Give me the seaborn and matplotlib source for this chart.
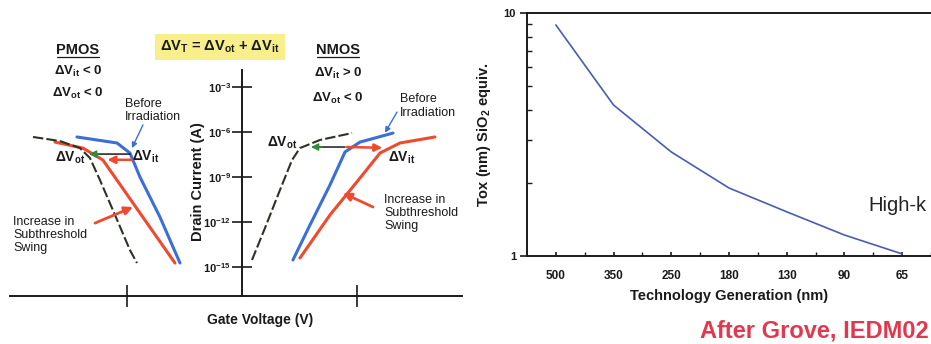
import matplotlib
matplotlib.use("Agg")
import matplotlib.pyplot as plt
import seaborn as sns
import pandas as pd
import numpy as np

# ---------------- data ----------------
# Left panel: schematic Id-Vg curves (x: gate voltage, arbitrary units; y: log10 drain current)
pmos_ot_v = [-1.817, -1.583, -1.409, -1.322, -1.235, -1.104, -0.974, -0.913]
pmos_ot_logi = [-6.33, -6.60, -7.07, -7.73, -9.20, -11.53, -13.87, -14.73]
pmos_before_v = [-1.435, -1.087, -0.974, -0.887, -0.713, -0.539]
pmos_before_logi = [-6.33, -6.73, -7.40, -9.00, -11.67, -14.73]
pmos_irr_v = [-1.626, -1.383, -1.209, -0.948, -0.583]
pmos_irr_logi = [-6.67, -7.07, -7.87, -10.73, -14.73]

nmos_ot_v = [0.087, 0.200, 0.330, 0.435, 0.504, 0.678, 0.957]
nmos_ot_logi = [-14.53, -12.40, -9.87, -7.87, -7.07, -6.53, -6.07]
nmos_before_v = [0.443, 0.591, 0.765, 0.896, 1.026, 1.313]
nmos_before_logi = [-14.53, -12.20, -9.53, -7.33, -6.67, -6.07]
nmos_irr_v = [0.504, 0.765, 1.026, 1.200, 1.374, 1.678]
nmos_irr_logi = [-14.40, -11.53, -9.07, -7.40, -6.73, -6.33]

current_ticks = [-3, -6, -9, -12, -15]
current_tick_labels = [r"$10^{-3}$", r"$10^{-6}$", r"$10^{-9}$", r"$10^{-12}$", r"$10^{-15}$"]

# Right panel: Tox vs technology generation
tech_gen = ["500", "350", "250", "180", "130", "90", "65"]
tox_nm = [8.93, 4.18, 2.68, 1.905, 1.52, 1.22, 1.02]

# ---------------- style ----------------
sns.set_style("ticks")
plt.rcParams["font.family"] = ["Liberation Sans", "DejaVu Sans"]
plt.rcParams["mathtext.fontset"] = "custom"
plt.rcParams["mathtext.rm"] = "Liberation Sans:bold"
plt.rcParams["mathtext.it"] = "Liberation Sans:bold"
plt.rcParams["mathtext.bf"] = "Liberation Sans:bold"
plt.rcParams["mathtext.sf"] = "Liberation Sans:bold"

BLUE = "#3a6fd6"
RED = "#ef4a2e"
GREEN = "#2e8b3a"
DARK = "#2b3326"
INK = "#1a1a1a"

W, H = 931, 344
fig = plt.figure(figsize=(W / 100, H / 100), dpi=100)

# ---------------- left panel ----------------
ax = fig.add_axes([10 / W, (H - 296) / H, (462 - 10) / W, 296 / H])
ybot, ytop = -16.93, 2.8
ax.set_xlim(-2.017, 1.913)
ax.set_ylim(ybot, ytop)
for s in ["top", "right"]:
    ax.spines[s].set_visible(False)
ax.spines["left"].set_position(("data", 0))
ax.spines["left"].set_bounds(ybot, -1.87)
ax.spines["left"].set_linewidth(1.4)
ax.spines["bottom"].set_linewidth(1.4)
ax.spines["left"].set_color(INK)
ax.spines["bottom"].set_color(INK)
ax.set_yticks(current_ticks)
ax.set_yticklabels(current_tick_labels)
ax.tick_params(axis="y", direction="inout", length=14, width=1.2, pad=1, labelsize=8, colors=INK)
ax.set_xticks([-1, 1])
ax.set_xticklabels([])
ax.tick_params(axis="x", direction="inout", length=16, width=1.2, colors=INK)

def curve(v, li, color, lw, ls="-"):
    df = pd.DataFrame({"v": v, "logI": li})
    sns.lineplot(data=df, x="v", y="logI", ax=ax, color=color, lw=lw, ls=ls,
                 sort=False, estimator=None, legend=False)

curve(pmos_irr_v, pmos_irr_logi, RED, 2.2)
curve(pmos_before_v, pmos_before_logi, BLUE, 2.2)
curve(pmos_ot_v, pmos_ot_logi, DARK, 1.5, (0, (5, 1.5)))
curve(nmos_irr_v, nmos_irr_logi, RED, 2.2)
curve(nmos_before_v, nmos_before_logi, BLUE, 2.2)
curve(nmos_ot_v, nmos_ot_logi, DARK, 1.5, (0, (5, 1.5)))
ax.set_xlabel("")
ax.set_ylabel("")

def arrow(x0, y0, x1, y1, color, lw=1.6, ms=12, style="-|>"):
    ax.annotate("", xy=(x1, y1), xytext=(x0, y0),
                arrowprops=dict(arrowstyle=style, color=color, lw=lw, mutation_scale=ms,
                                shrinkA=0, shrinkB=0))

# PMOS shift arrows
arrow(-0.974, -7.47, -1.30, -7.47, INK, lw=1.1, style="-")
arrow(-1.24, -7.47, -1.33, -7.47, GREEN, lw=1.0, ms=11)
arrow(-0.957, -7.85, -1.17, -7.85, RED, lw=1.8, ms=11)
# NMOS shift arrows
arrow(0.896, -7.0, 0.64, -7.0, INK, lw=1.1, style="-")
arrow(0.70, -7.0, 0.60, -7.0, GREEN, lw=1.0, ms=11)
arrow(0.913, -7.0, 1.22, -7.05, RED, lw=1.8, ms=11)
# leaders
arrow(-0.861, -5.53, -0.957, -7.07, BLUE, lw=1.0, ms=8)
arrow(1.348, -4.67, 1.243, -6.05, BLUE, lw=1.0, ms=8)
arrow(-1.278, -12.07, -0.948, -11.0, RED, lw=2.0, ms=12)
arrow(1.139, -11.0, 0.878, -10.07, RED, lw=2.0, ms=12)

tb = dict(color=INK, fontweight="bold")
ax.text(-1.426, -0.53, "PMOS", fontsize=10.5, ha="center", va="center", **tb)
ax.plot([-1.61, -1.24], [-1.0, -1.0], color=INK, lw=0.9)
ax.text(-1.426, -1.93, r"ΔV$_{it}$ < 0", fontsize=9.5, ha="center", va="center", **tb)
ax.text(-1.426, -3.40, r"ΔV$_{ot}$ < 0", fontsize=9.5, ha="center", va="center", **tb)
ax.text(0.835, -0.53, "NMOS", fontsize=10.5, ha="center", va="center", **tb)
ax.plot([0.65, 1.02], [-1.0, -1.0], color=INK, lw=0.9)
ax.text(0.835, -2.07, r"ΔV$_{it}$ > 0", fontsize=9.5, ha="center", va="center", **tb)
ax.text(0.835, -3.73, r"ΔV$_{ot}$ < 0", fontsize=9.5, ha="center", va="center", **tb)
ax.text(-0.191, -0.33, r"ΔV$_T$ = ΔV$_{ot}$ + ΔV$_{it}$", fontsize=10.5, ha="center", va="center",
        bbox=dict(boxstyle="square,pad=0.35", facecolor="#f8ee8c", edgecolor="none"), **tb)

ax.text(-1.496, -7.75, r"ΔV$_{ot}$", fontsize=10, ha="center", va="center", **tb)
ax.text(-0.835, -7.67, r"ΔV$_{it}$", fontsize=10, ha="center", va="center", **tb)
ax.text(0.348, -6.73, r"ΔV$_{ot}$", fontsize=10, ha="center", va="center", **tb)
ax.text(1.391, -7.73, r"ΔV$_{it}$", fontsize=10, ha="center", va="center", **tb)

tn = dict(color=INK, fontsize=9, linespacing=1.15)
ax.text(-1.017, -4.57, "Before\nIrradiation", ha="left", va="center", **tn)
ax.text(1.374, -4.27, "Before\nIrradiation", ha="left", va="center", **tn)
ax.text(-1.991, -12.87, "Increase in\nSubthreshold\nSwing", ha="left", va="center", **tn)
ax.text(1.235, -11.4, "Increase in\nSubthreshold\nSwing", ha="left", va="center", **tn)

ax.text(-0.383, -9.3, "Drain Current (A)", rotation=90, fontsize=10.5, ha="center", va="center", **tb)
ax.text(0.157, -18.55, "Gate Voltage (V)", fontsize=10, ha="center", va="center", clip_on=False, **tb)

# ---------------- right panel ----------------
ax2 = fig.add_axes([527 / W, (H - 256) / H, (W - 527) / W, (256 - 13) / H])
df2 = pd.DataFrame({"gen": np.arange(len(tech_gen)), "tox": tox_nm})
sns.lineplot(data=df2, x="gen", y="tox", ax=ax2, color="#4a5cb0", lw=1.2,
             sort=False, estimator=None, legend=False)
ax2.set_yscale("log")
ax2.set_ylim(1, 10)
ax2.set_xlim(-0.5, 6.42)
ax2.spines["right"].set_visible(False)
for s in ["top", "left", "bottom"]:
    ax2.spines[s].set_linewidth(1.4)
    ax2.spines[s].set_color(INK)
ax2.set_yticks([1, 10])
ax2.set_yticklabels(["1", "10"], fontweight="bold")
ax2.yaxis.set_minor_locator(matplotlib.ticker.LogLocator(base=10, subs=np.arange(2, 10)))
ax2.yaxis.set_minor_formatter(matplotlib.ticker.NullFormatter())
ax2.tick_params(axis="y", which="major", direction="out", length=5, width=1.2, labelsize=8, pad=3, colors=INK)
ax2.tick_params(axis="y", which="minor", direction="in", length=3.5, width=1.0, colors=INK)
ax2.set_xticks(np.arange(len(tech_gen)))
ax2.set_xticklabels(tech_gen, fontweight="bold")
ax2.set_xticks(np.arange(len(tech_gen)) + 0.5, minor=True)
ax2.tick_params(axis="x", which="major", direction="in", length=3, width=1.2, labelsize=8.5, pad=10, colors=INK)
ax2.tick_params(axis="x", which="minor", direction="in", length=3, width=1.0, colors=INK)
ax2.set_xlabel("Technology Generation (nm)", fontsize=10.5, fontweight="bold", color=INK, labelpad=5)
ax2.set_ylabel(r"Tox (nm) SiO$_2$ equiv.", fontsize=10.5, fontweight="bold", color=INK, labelpad=14)
ax2.yaxis.set_label_coords(-34 / (W - 527), 0.5)
ax2.text(6.42, 1.62, "High-k", fontsize=14.5, ha="right", va="center", color="#222222")
fig.text(929 / W, 1 - 331 / H, "After Grove, IEDM02", fontsize=17, fontweight="bold",
         color="#e2384f", ha="right", va="center")

fig.savefig("out.png", dpi=100, facecolor="white")
